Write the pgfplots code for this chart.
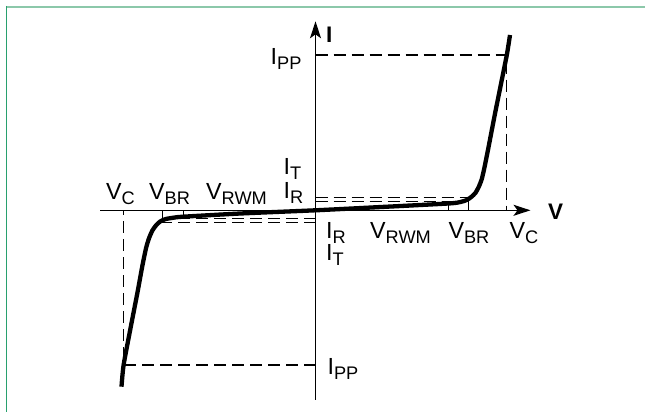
\documentclass[border=0pt]{standalone}
\usepackage{fontspec}
\setmainfont{Liberation Sans}
\usepackage{pgfplots}
\pgfplotsset{compat=1.18}
\usetikzlibrary{arrows.meta}

\definecolor{frametop}{HTML}{8CC8AA}
\definecolor{frameleft}{HTML}{28A06E}

% main letter with a lowered, smaller index
\newcommand{\lab}[2]{{\fontsize{23.3pt}{26pt}\selectfont #1}\raisebox{-5pt}{\fontsize{18.2pt}{20pt}\selectfont #2}}

\begin{document}
\begin{tikzpicture}
\useasboundingbox (0,0) rectangle (645pt,412pt);
\begin{axis}[
    at={(0,0)}, anchor=south west,
    scale only axis, width=645pt, height=412pt,
    xmin=-315.5, xmax=329.5, ymin=-201.7, ymax=210.3,
    axis lines=none, clip=false,
]
% frame
\addplot[frametop, line width=2.5pt] coordinates {(-309.5,203.3) (329.5,203.3)};
\addplot[frameleft, line width=1.5pt] coordinates {(-309,204.5) (-309,-201.7)};

% axes
\addplot[black, line width=1.4pt, -{Stealth[length=17pt,width=11pt,inset=4pt]}]
    coordinates {(-215.5,0) (215,0)};
\addplot[black, line width=1.4pt, -{Stealth[length=17pt,width=11pt,inset=4pt]}]
    coordinates {(0,-189.7) (0,189)};

% guide lines
\pgfplotsset{guide/.style={black, line width=1.2pt, dash pattern=on 12pt off 6pt}}
\addplot[guide] coordinates {(0,155.3) (191.3,155.3) (191.3,0)};
\addplot[guide] coordinates {(0,12.6) (154,12.6)};
\addplot[guide] coordinates {(0,8.6) (144,8.6)};
\addplot[guide] coordinates {(0,-8) (-146,-8)};
\addplot[guide] coordinates {(0,-12) (-154,-12)};
\addplot[guide] coordinates {(0,-154.7) (-191.9,-154.7) (-191.9,0)};

% small ticks at V_RWM and V_BR
\addplot[black, line width=1pt] coordinates {(132.8,0) (132.8,6.8)};
\addplot[black, line width=1pt] coordinates {(152.8,0) (152.8,11)};
\addplot[black, line width=1pt] coordinates {(-132.2,0) (-132.2,-6.4)};
\addplot[black, line width=1pt] coordinates {(-152.8,0) (-152.8,-9.6)};

% characteristic
\addplot[black, line width=4.3pt, smooth, tension=0.4] coordinates {
    (-194,-176.4) (-191.9,-154.7) (-185,-118) (-178,-82) (-173.3,-56.4)
    (-169.5,-38) (-166.5,-28) (-163,-20) (-159,-14.5) (-155,-11)
    (-150,-8.8) (-142,-7.4) (-132.2,-6.4) (-75,-3.2) (0,0)
    (60,3) (132.8,6.8) (145,8.3) (151.2,10.3) (156,13.5) (160,17.5)
    (163.5,24) (166.2,31) (169,43) (172.8,62) (178.9,93.6)
    (185,124) (191.3,155.3) (194.5,175.3)
};

% labels
\tikzset{lbl/.style={anchor=base west, inner sep=0pt}}
\node[lbl] at (axis cs:10.5,-28) {\lab{I}{R}};
\node[lbl] at (axis cs:10.5,-50.5) {\lab{I}{T}};
\node[lbl] at (axis cs:54.5,-28) {\lab{V}{RWM}};
\node[lbl] at (axis cs:132.8,-28) {\lab{V}{BR}};
\node[lbl] at (axis cs:193.8,-28) {\lab{V}{C}};
\node[lbl] at (axis cs:-209.5,11) {\lab{V}{C}};
\node[lbl] at (axis cs:-166.5,11) {\lab{V}{BR}};
\node[lbl] at (axis cs:-109.5,11) {\lab{V}{RWM}};
\node[lbl] at (axis cs:-32,12) {\lab{I}{R}};
\node[lbl] at (axis cs:-32,35.3) {\lab{I}{T}};
\node[lbl] at (axis cs:-45,145.3) {\lab{I}{PP}};
\node[lbl] at (axis cs:11.9,-164.7) {\lab{I}{PP}};
\node[lbl, font=\fontsize{22.5pt}{25pt}\selectfont\bfseries] at (axis cs:10.5,167.6) {I};
\node[lbl, font=\fontsize{22.5pt}{25pt}\selectfont\bfseries] at (axis cs:232.5,-9.7) {V};
\end{axis}
\end{tikzpicture}
\end{document}
